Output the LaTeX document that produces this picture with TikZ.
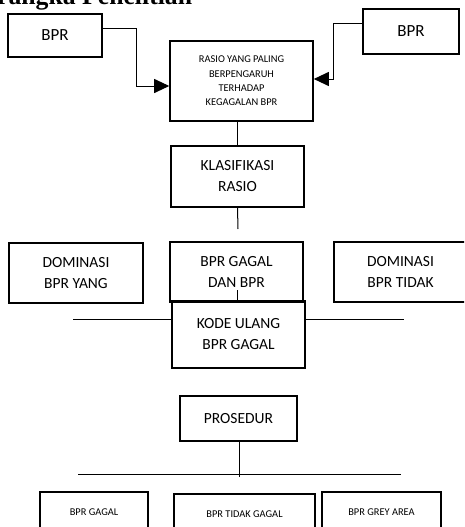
\documentclass[tikz,border=0pt]{standalone}
\usepackage{fontspec}
\setsansfont{Carlito}
\newfontfamily\titlefont{Liberation Serif}
\usetikzlibrary{positioning, arrows.meta}

\begin{document}
\begin{tikzpicture}[
  x=1pt, y=-1pt,
  box/.style={rectangle, draw=black, line width=1.6pt, inner sep=0pt, align=center, font=\sffamily\fontsize{15.5}{21}\selectfont},
  smallbox/.style={box, font=\sffamily\fontsize{10.4}{14.3}\selectfont},
  link/.style={line width=1pt, black},
  arrow/.style={-{Triangle[length=15pt, width=14pt]}, line width=1pt, black}
]
\useasboundingbox (0,0) rectangle (464,527);
\clip (0,0) rectangle (464,527);

% Title (cut off at the top)
\node[anchor=base west, inner sep=0pt, font=\titlefont\bfseries\fontsize{25.7}{30}\selectfont] (title) at (-3,4.5) {rangka Penelitian};

% Row 1: inputs + ratio box
\node[box, minimum width=94pt, minimum height=43pt, font=\sffamily\fontsize{17}{21}\selectfont] (bprL) at (55,35.5) {BPR};
\node[box, minimum width=96pt, minimum height=45pt, font=\sffamily\fontsize{17}{21}\selectfont] (bprR) at (411,31.5) {BPR};
\node[smallbox, minimum width=143pt, minimum height=80pt] (rasio) at (241.5,81) {RASIO YANG PALING\\BERPENGARUH\\TERHADAP\\KEGAGALAN BPR};

% Row 2: classification
\node[box, minimum width=133pt, minimum height=61pt] (klas) at (237.5,176.5) {KLASIFIKASI\\RASIO};

% Row 3: groups
\node[box, minimum width=134pt, minimum height=60pt] (domL) at (76,273) {DOMINASI\\BPR YANG};
\node[box, minimum width=133pt, minimum height=60pt] (gagal) at (236.5,272) {BPR GAGAL\\DAN BPR};
\node[box, minimum width=133pt, minimum height=60pt] (domR) at (400.5,272) {DOMINASI\\BPR TIDAK};
\node[box, minimum width=133pt, minimum height=67pt] (kode) at (238.5,334.5) {KODE ULANG\\BPR GAGAL};

% Row 4: procedure
\node[box, minimum width=117pt, minimum height=45pt] (pros) at (238.5,418.5) {PROSEDUR};

% Row 5: results (cut off at the bottom)
\node[smallbox, minimum width=108pt, minimum height=40pt] (resGagal) at (94,512) {BPR GAGAL};
\node[smallbox, minimum width=141pt, minimum height=40pt] (resTidak) at (244.5,514) {BPR TIDAK GAGAL};
\node[smallbox, minimum width=119pt, minimum height=40pt] (resGrey) at (381.5,512) {BPR GREY AREA};

% Arrows into the ratio box
\draw[arrow] ([yshift=6.5pt]bprL.east) -| (136,86) -- ([yshift=-5pt]rasio.west);
\draw[arrow] ([yshift=7.5pt]bprR.west) -| (333,79) -- ([yshift=2pt]rasio.east);

% Vertical links
\draw[link] (klas.north |- rasio.south) -- (klas.north);
\coordinate (klasEnd) at (238,229);
\draw[link] (klas.south) -- (klasEnd);
\coordinate (stub) at (237.5,290);
\draw[link] (stub) -- (kode.north -| stub);

% Side lines of the recode box
\coordinate (kodeL) at (73,319);
\coordinate (kodeR) at (404,319);
\draw[link] (kodeL) -- (kode.west |- kodeL);
\draw[link] (kode.east |- kodeR) -- (kodeR);

% Procedure split
\coordinate (splitL) at (78,474);
\coordinate (splitR) at (401,474);
\coordinate (prosEnd) at (239,477);
\draw[link] (splitL) -- (splitR);
\draw[link] (pros.south -| prosEnd) -- (prosEnd);

\end{tikzpicture}
\end{document}
